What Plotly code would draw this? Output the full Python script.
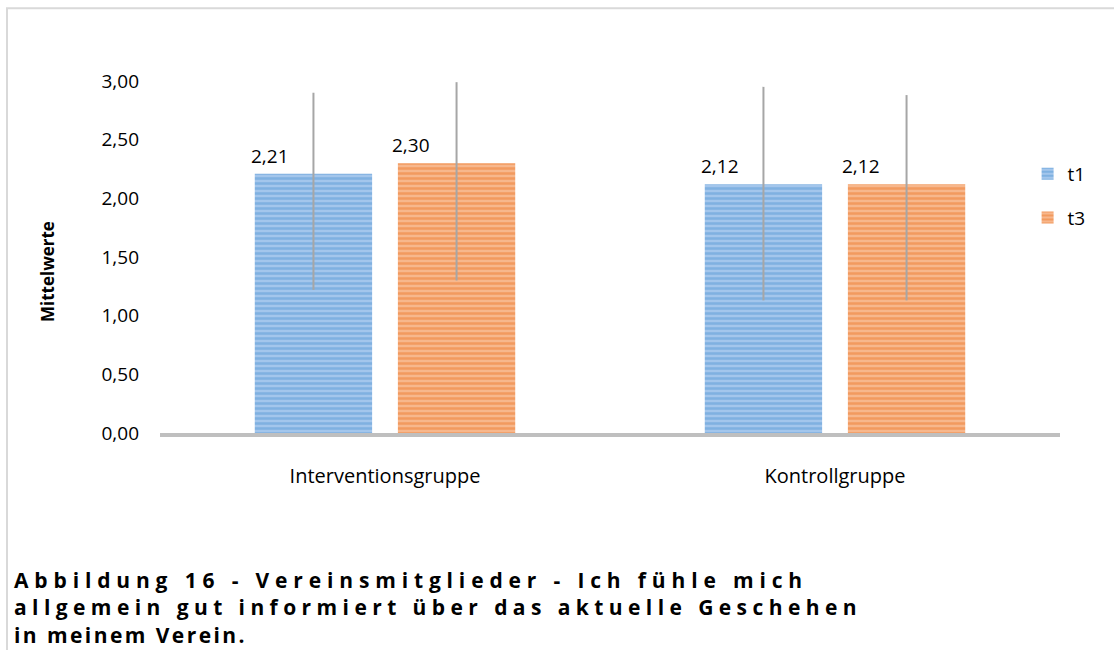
import plotly.graph_objects as go

# Daten
gruppen = ["Interventionsgruppe", "Kontrollgruppe"]
t1_werte = [2.21, 2.12]
t3_werte = [2.30, 2.12]
t1_fehler_plus = [0.69, 0.83]
t1_fehler_minus = [0.99, 0.99]
t3_fehler_plus = [0.69, 0.76]
t3_fehler_minus = [1.00, 0.99]
y_ticks = [0, 0.5, 1.0, 1.5, 2.0, 2.5, 3.0]

titel = ("Abbildung 16 - Vereinsmitglieder - Ich fühle mich<br>"
         "allgemein gut informiert über das aktuelle Geschehen<br>"
         "in meinem Verein.")

FONT = "Open Sans"
ERR_COLOR = "#A6A6A6"


def de_zahl(v):
    return f"{v:.2f}".replace(".", ",")


fig = go.Figure()

fig.add_trace(go.Bar(
    name="t1", x=gruppen, y=t1_werte,
    marker=dict(color="#A3C6EC", line=dict(width=0),
                pattern=dict(shape="-", fgcolor="#5B9BD5", size=5, solidity=0.5)),
    error_y=dict(type="data", symmetric=False, array=t1_fehler_plus,
                 arrayminus=t1_fehler_minus, color=ERR_COLOR, thickness=2, width=0),
    legendgroup="t1",
))
fig.add_trace(go.Bar(
    name="t3", x=gruppen, y=t3_werte,
    marker=dict(color="#F7B78C", line=dict(width=0),
                pattern=dict(shape="-", fgcolor="#ED7D31", size=5, solidity=0.5)),
    error_y=dict(type="data", symmetric=False, array=t3_fehler_plus,
                 arrayminus=t3_fehler_minus, color=ERR_COLOR, thickness=2, width=0),
    legendgroup="t3",
))

# Datenbeschriftungen
for g, v in zip(gruppen, t1_werte):
    fig.add_annotation(x=g, y=v, text=de_zahl(v), showarrow=False, xshift=-115,
                       yanchor="bottom", yshift=3, font=dict(size=19, color="#000"))
for g, v in zip(gruppen, t3_werte):
    fig.add_annotation(x=g, y=v, text=de_zahl(v), showarrow=False, xshift=26,
                       yanchor="bottom", yshift=3, font=dict(size=19, color="#000"))

# Achsentitel
fig.add_annotation(xref="paper", yref="paper", x=-0.1256, y=0.46, xanchor="center",
                   yanchor="middle", text="<b>Mittelwerte</b>", textangle=-90,
                   showarrow=False, font=dict(size=17, color="#000"))

# Abbildungstitel
fig.add_annotation(xref="paper", yref="paper", x=-0.165, y=-0.373, xanchor="left",
                   yanchor="top", align="left", text="<b>" + titel + "</b>",
                   showarrow=False, font=dict(size=21, color="#000"))

# Rahmen
fig.add_shape(type="rect", xref="paper", yref="paper", x0=-0.17, x1=1.2, y0=-0.8, y1=1.207,
              line=dict(color="#D9D9D9", width=2), fillcolor="rgba(0,0,0,0)", layer="below")

fig.update_layout(
    width=1114, height=650,
    margin=dict(l=160, r=54, t=81, b=217),
    paper_bgcolor="white", plot_bgcolor="white",
    font=dict(family=FONT, size=19, color="#000"),
    barmode="group", bargap=0.364, bargroupgap=0.18,
    showlegend=True,
    legend=dict(x=0.964, y=0.79, xanchor="left", yanchor="top", tracegroupgap=16,
                font=dict(size=19), bgcolor="rgba(0,0,0,0)"),
)
fig.update_xaxes(showgrid=False, showline=True, linecolor="#BFBFBF", linewidth=4,
                 ticks="", ticklabelstandoff=22, zeroline=False, tickfont=dict(size=20))
fig.update_yaxes(range=[0, 3], tickvals=y_ticks, ticktext=[de_zahl(v) for v in y_ticks],
                 showgrid=False, showline=False, zeroline=False, ticks="",
                 ticklabelstandoff=20)

# Seitenrand entfernen, Titelzeilen gesperrt setzen (wie im Original)
post = """
document.body.style.margin = '0';
var gd = document.getElementById('{plot_id}');
var breiten = [794, 848, 233];
gd.querySelectorAll('.annotation-text').forEach(function(el) {
    if (!el.textContent.startsWith('Abbildung')) return;
    el.querySelectorAll('tspan.line').forEach(function(ts, i) {
        var n = ts.textContent.length;
        var w = ts.getComputedTextLength();
        ts.style.letterSpacing = ((breiten[i] - w) / n) + 'px';
    });
});
"""

fig.write_html("out.html", post_script=post, config={"displayModeBar": False})
